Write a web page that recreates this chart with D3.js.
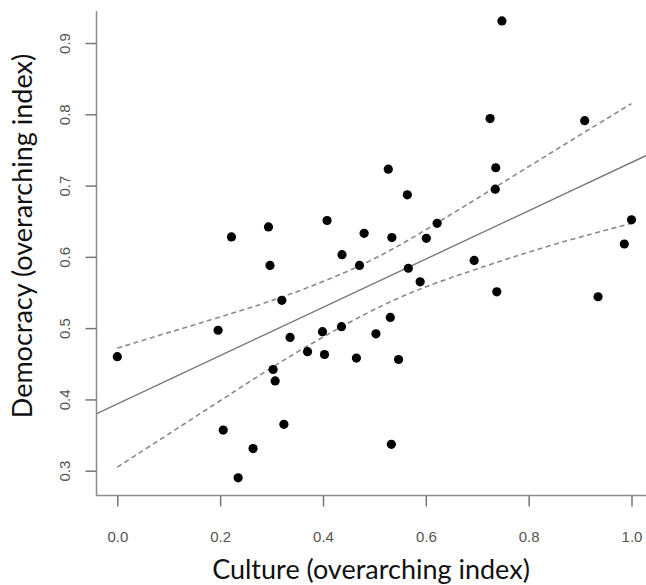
<!DOCTYPE html>
<html>
<head>
<meta charset="utf-8">
<script src="https://cdn.jsdelivr.net/npm/d3@7"></script>
<style>
  body { margin: 0; background: #fff; }
</style>
</head>
<body>
<div id="chart"></div>
<script>
// culture index (x) and democracy index (y) for each case
var culture = [0.000, 0.196, 0.206, 0.222, 0.235, 0.264, 0.294, 0.297, 0.303, 0.307,
               0.320, 0.324, 0.336, 0.370, 0.399, 0.403, 0.408, 0.436, 0.437, 0.465,
               0.471, 0.480, 0.503, 0.527, 0.531, 0.533, 0.534, 0.547, 0.564, 0.566,
               0.589, 0.601, 0.622, 0.694, 0.725, 0.735, 0.736, 0.738, 0.748, 0.909,
               0.935, 0.986, 1.000];
var democracy = [0.460, 0.497, 0.357, 0.628, 0.290, 0.331, 0.642, 0.588, 0.442, 0.426,
                 0.539, 0.365, 0.487, 0.467, 0.495, 0.463, 0.651, 0.502, 0.603, 0.458,
                 0.588, 0.633, 0.492, 0.723, 0.515, 0.337, 0.627, 0.456, 0.687, 0.584,
                 0.565, 0.626, 0.647, 0.595, 0.794, 0.695, 0.725, 0.551, 0.931, 0.791,
                 0.544, 0.618, 0.652];

// fitted line, read at the plot edges
var fitX = [-0.04, 1.04];
var fitY = [0.380, 0.746];

// confidence band
var upperX = [0, 0.197, 0.320, 0.492, 0.621, 0.736, 0.868, 1.0];
var upperY = [0.472, 0.515, 0.542, 0.591, 0.647, 0.698, 0.757, 0.815];
var lowerX = [0, 0.200, 0.336, 0.492, 0.589, 0.694, 0.842, 1.0];
var lowerY = [0.305, 0.398, 0.462, 0.525, 0.556, 0.582, 0.617, 0.647];

var xTicks = [0, 0.2, 0.4, 0.6, 0.8, 1.0];
var yTicks = [0.3, 0.4, 0.5, 0.6, 0.7, 0.8, 0.9];

var width = 646, height = 585;

var x = d3.scaleLinear().domain([0, 1]).range([117.3, 631.5]);
var y = d3.scaleLinear().domain([0.3, 0.9]).range([470.7, 43]);

var svg = d3.select("#chart").append("svg")
    .attr("width", width)
    .attr("height", height);

var plotLeft = 96.5, plotBottom = 495.5, plotTop = 11;

svg.append("clipPath").attr("id", "clip")
  .append("rect")
    .attr("x", plotLeft).attr("y", 0)
    .attr("width", width - plotLeft).attr("height", plotBottom);

var plot = svg.append("g").attr("clip-path", "url(#clip)");

// regression line
plot.append("path")
    .datum(d3.zip(fitX, fitY))
    .attr("fill", "none")
    .attr("stroke", "#7a7a7a")
    .attr("stroke-width", 1.4)
    .attr("d", d3.line().x(function(d){ return x(d[0]); }).y(function(d){ return y(d[1]); }));

var band = d3.line()
    .curve(d3.curveBasis)
    .x(function(d){ return x(d[0]); })
    .y(function(d){ return y(d[1]); });

plot.append("path")
    .datum(d3.zip(upperX, upperY))
    .attr("fill", "none")
    .attr("stroke", "#8a8a8a")
    .attr("stroke-width", 1.6)
    .attr("stroke-dasharray", "5,3.5")
    .attr("d", band);

plot.append("path")
    .datum(d3.zip(lowerX, lowerY))
    .attr("fill", "none")
    .attr("stroke", "#8a8a8a")
    .attr("stroke-width", 1.6)
    .attr("stroke-dasharray", "5,3.5")
    .attr("d", band);

// points
plot.selectAll("circle")
    .data(d3.zip(culture, democracy))
    .enter().append("circle")
    .attr("cx", function(d){ return x(d[0]); })
    .attr("cy", function(d){ return y(d[1]); })
    .attr("r", 4.6)
    .attr("fill", "#000");

// L-shaped frame
svg.append("path")
    .attr("d", "M" + plotLeft + "," + plotTop + "V" + plotBottom + "H" + width)
    .attr("fill", "none")
    .attr("stroke", "#8c8c8c")
    .attr("stroke-width", 1.5);

var tickFont = "'Liberation Sans', Arial, sans-serif";

// x axis
var xAxis = svg.append("g")
    .attr("transform", "translate(0," + plotBottom + ")")
    .call(d3.axisBottom(x).tickValues(xTicks).tickSize(11).tickPadding(25)
          .tickFormat(d3.format(".1f")));
xAxis.select(".domain").remove();
xAxis.selectAll(".tick line").attr("stroke", "#777").attr("stroke-width", 1.5);
xAxis.selectAll(".tick text")
    .attr("fill", "#555")
    .style("font-family", tickFont)
    .style("font-size", "15px");

// y axis
var yAxis = svg.append("g")
    .attr("transform", "translate(" + plotLeft + ",0)")
    .call(d3.axisLeft(y).tickValues(yTicks).tickSize(11).tickFormat(d3.format(".1f")));
yAxis.select(".domain").remove();
yAxis.selectAll(".tick line").attr("stroke", "#777").attr("stroke-width", 1.5);
yAxis.selectAll(".tick text")
    .attr("x", 0).attr("dy", 0)
    .attr("transform", "translate(-30,0) rotate(-90)")
    .attr("text-anchor", "middle")
    .attr("dominant-baseline", "middle")
    .attr("fill", "#555")
    .style("font-family", tickFont)
    .style("font-size", "15px");

// axis titles
svg.append("text")
    .attr("x", 371)
    .attr("y", 579)
    .attr("text-anchor", "middle")
    .style("font-family", "Lato, sans-serif")
    .style("font-size", "27px")
    .attr("fill", "#111")
    .text("Culture (overarching index)");

svg.append("text")
    .attr("transform", "translate(32,236) rotate(-90)")
    .attr("text-anchor", "middle")
    .style("font-family", "Lato, sans-serif")
    .style("font-size", "27px")
    .attr("fill", "#111")
    .text("Democracy (overarching index)");
</script>
</body>
</html>
